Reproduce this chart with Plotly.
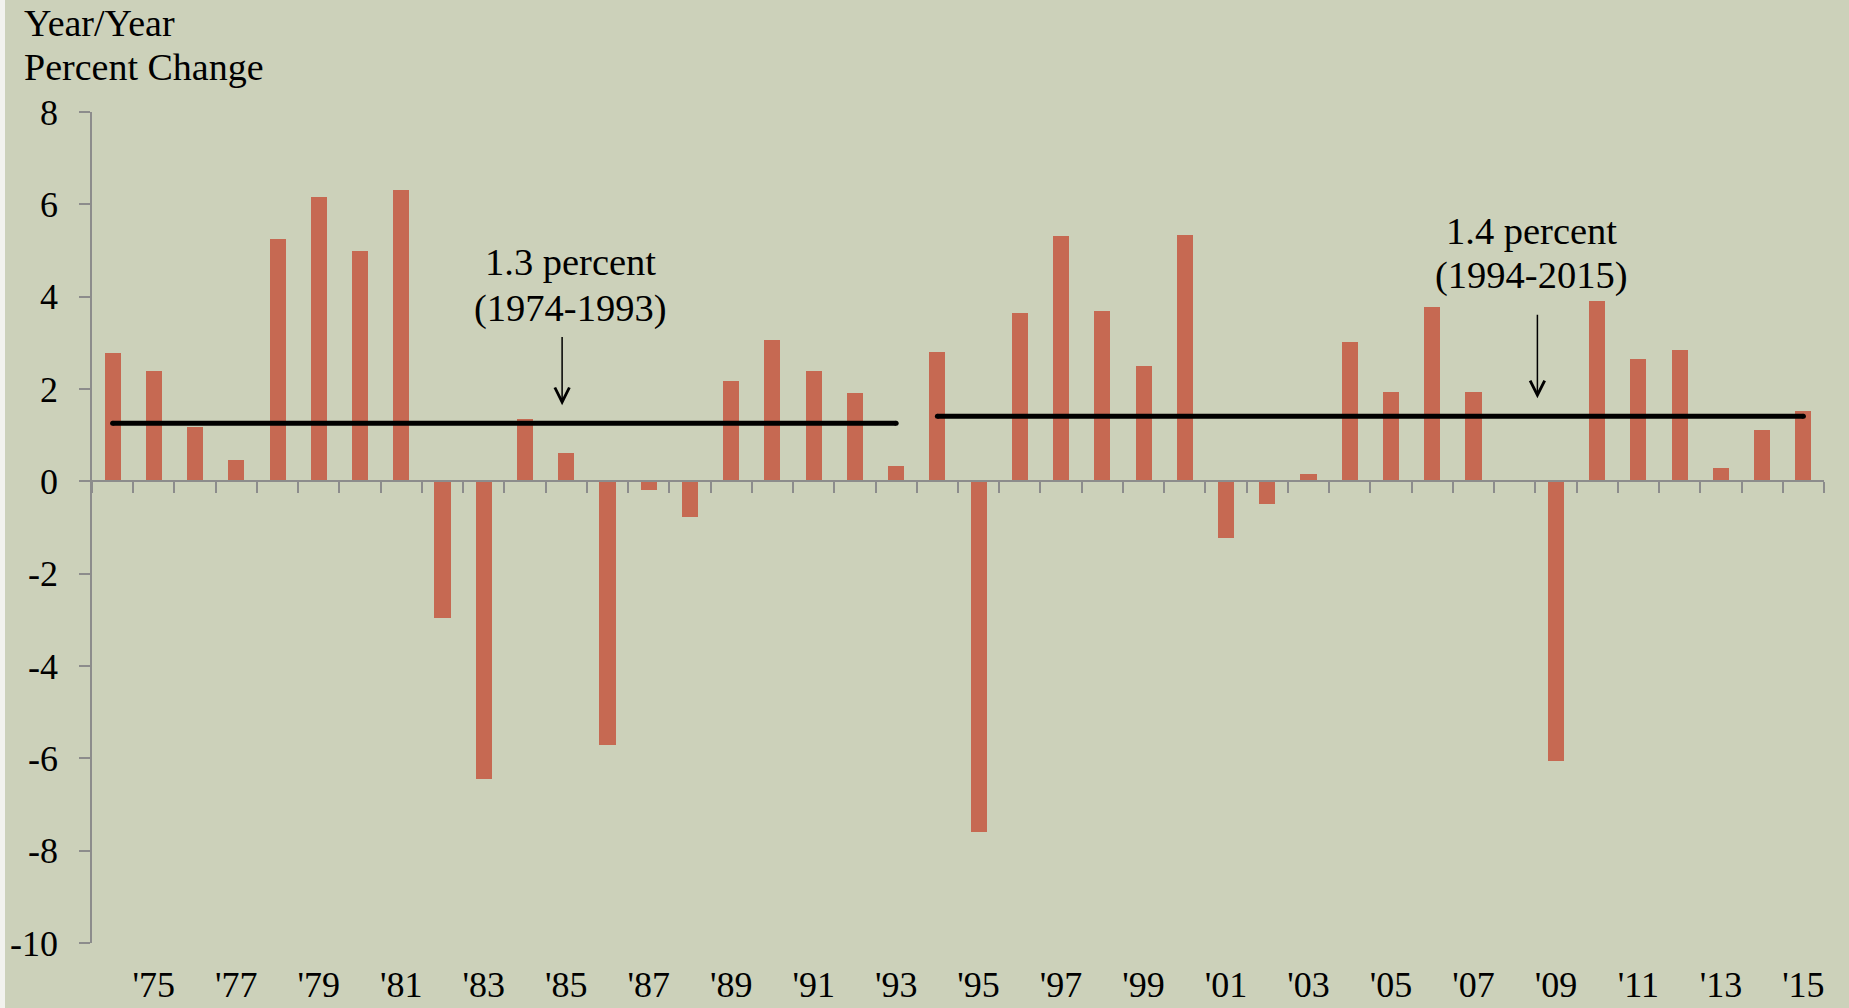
import plotly.graph_objects as go

years = list(range(1974, 2016))
values = [2.78, 2.40, 1.17, 0.46, 5.24, 6.16, 5.00, 6.31, -2.96, -6.44,
          1.35, 0.61, -5.72, -0.18, -0.77, 2.17, 3.07, 2.38, 1.92, 0.33,
          2.81, -7.59, 3.65, 5.31, 3.68, 2.50, 5.34, -1.23, -0.49, 0.15,
          3.01, 1.94, 3.78, 1.94, 0.0, -6.05, 3.91, 2.66, 2.84, 0.28,
          1.12, 1.53]

period1_years = [1974, 1993]
period1_avg = [1.26, 1.26]
period2_years = [1994, 2015]
period2_avg = [1.41, 1.41]

xtick_vals = list(range(1975, 2016, 2))
xtick_text = ["'" + str(y)[2:] for y in xtick_vals]
ytick_vals = list(range(-10, 9, 2))
ytick_text = [str(v) for v in ytick_vals]
boundary_ticks = [y - 0.5 for y in years] + [years[-1] + 0.5]

BG = "#CCD1BA"
BAR = "#C66952"
AXIS = "#8C8C8C"
FONT = "Liberation Serif"

fig = go.Figure()
fig.add_trace(go.Bar(x=years, y=values, width=0.39,
                     marker=dict(color=BAR, line=dict(width=0)),
                     showlegend=False, hoverinfo="x+y"))
for xs, ys in [(period1_years, period1_avg), (period2_years, period2_avg)]:
    fig.add_trace(go.Scatter(x=xs, y=ys, mode="lines+markers",
                             line=dict(color="black", width=5),
                             marker=dict(color="black", size=5),
                             showlegend=False, hoverinfo="y"))
# invisible trace for the zero-position axis
fig.add_trace(go.Scatter(x=[years[0]], y=[0], xaxis="x2", mode="markers",
                         marker=dict(opacity=0), showlegend=False, hoverinfo="skip"))

xr = [years[0] - 0.5, years[-1] + 0.5]
yr = [-10, 8]

fig.update_layout(
    width=1849, height=1008,
    margin=dict(l=92, r=25, t=112, b=65, autoexpand=False),
    paper_bgcolor=BG, plot_bgcolor=BG,
    font=dict(family=FONT, color="black", size=36),
    bargap=0,
    xaxis=dict(range=xr, tickvals=xtick_vals, ticktext=xtick_text,
               showline=False, showgrid=False, zeroline=False, ticks="",
               automargin=False, ticklabelstandoff=17,
               tickfont=dict(size=36, family=FONT)),
    xaxis2=dict(range=xr, overlaying="x", anchor="free",
                position=(0 - yr[0]) / (yr[1] - yr[0]), automargin=False,
                tickvals=boundary_ticks, ticks="outside", ticklen=11,
                tickwidth=1.5, tickcolor=AXIS, showline=True, linecolor=AXIS,
                linewidth=2, showticklabels=False, showgrid=False, zeroline=False),
    yaxis=dict(range=yr, tickvals=ytick_vals, ticktext=ytick_text,
               showline=True, linecolor=AXIS, linewidth=1.5, automargin=False,
               ticks="outside", ticklen=11, tickwidth=1.5, tickcolor=AXIS,
               showgrid=False, zeroline=False, ticklabelstandoff=14,
               tickfont=dict(size=36, family=FONT)),
)

def px_to_paper_y(py):
    return (943 - py) / 831.0

def px_to_paper_x(px):
    return (px - 92) / 1732.0

annots = [
    dict(text="Year/Year", x=px_to_paper_x(22), y=px_to_paper_y(23), xref="paper", yref="paper",
         xanchor="left", yanchor="middle", showarrow=False, font=dict(size=38)),
    dict(text="Percent Change", x=px_to_paper_x(22), y=px_to_paper_y(67), xref="paper", yref="paper",
         xanchor="left", yanchor="middle", showarrow=False, font=dict(size=38)),
    dict(text="1.3 percent", x=1985.1, y=4.75, xref="x", yref="y",
         xanchor="center", yanchor="middle", showarrow=False, font=dict(size=38.5)),
    dict(text="(1974-1993)", x=1985.1, y=3.75, xref="x", yref="y",
         xanchor="center", yanchor="middle", showarrow=False, font=dict(size=38.5)),
    dict(text="1.4 percent", x=2008.4, y=5.43, xref="x", yref="y",
         xanchor="center", yanchor="middle", showarrow=False, font=dict(size=38.5)),
    dict(text="(1994-2015)", x=2008.4, y=4.45, xref="x", yref="y",
         xanchor="center", yanchor="middle", showarrow=False, font=dict(size=38.5)),
    dict(text="", x=1984.9, y=1.65, ax=1984.9, ay=3.16, xref="x", yref="y",
         axref="x", ayref="y", showarrow=True, arrowhead=5, arrowsize=1.9,
         arrowwidth=1.5, arrowcolor="black"),
    dict(text="", x=2008.55, y=1.80, ax=2008.55, ay=3.64, xref="x", yref="y",
         axref="x", ayref="y", showarrow=True, arrowhead=5, arrowsize=1.9,
         arrowwidth=1.5, arrowcolor="black"),
]
fig.update_layout(annotations=annots)

# thin light strip along the left edge, as in the reference
fig.add_shape(type="rect", xref="paper", yref="paper",
              x0=px_to_paper_x(0), x1=px_to_paper_x(5),
              y0=px_to_paper_y(1010), y1=px_to_paper_y(-2),
              fillcolor="#F2F2EE", line=dict(width=0), layer="below")

fig.write_html("out.html", config={"displayModeBar": False},
               post_script="document.body.style.margin='0px';document.body.style.overflow='hidden';")
